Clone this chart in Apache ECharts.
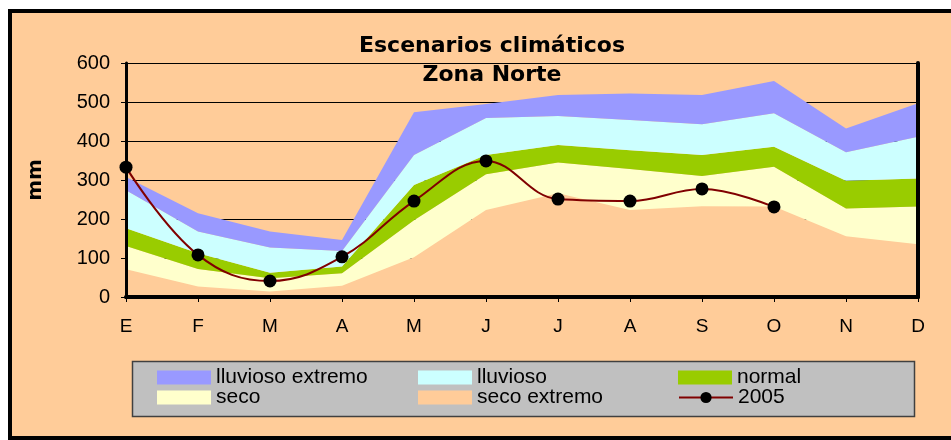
<!DOCTYPE html>
<html>
<head>
<meta charset="utf-8">
<script src="https://cdn.jsdelivr.net/npm/echarts@6/dist/echarts.min.js"></script>
<style>
html,body{margin:0;padding:0;background:#ffffff;}
#chart_clima{width:951px;height:440px;}
</style>
</head>
<body>
<div id="chart_clima"></div>
<script>
// datos (mm por mes), bandas apiladas de abajo hacia arriba
var meses = ['E','F','M','A','M','J','J','A','S','O','N','D'];
var secoExtremo     = [71, 27, 14, 29, 102, 223, 266, 223, 233, 232, 156, 135];
var seco            = [60, 45, 34, 32,  95,  92,  79, 105,  77, 102,  71,  97];
var normal          = [45, 40, 14, 17,  90,  49,  45,  48,  54,  51,  71,  72];
var lluvioso        = [98, 56, 65, 40,  77,  95,  74,  78,  79,  86,  73, 107];
var lluviosoExtremo = [34, 47, 41, 28, 110,  36,  54,  68,  75,  83,  61,  86];
var anio2005        = [333, 108, 41, 103, 246, 349, 251, 246, 277, 231, null, null];

function banda(nombre, datos, color){
    return {
        name: nombre,
        type: 'line',
        stack: 'total',
        data: datos,
        symbol: 'none',
        lineStyle: {width: 0},
        itemStyle: {color: color},
        areaStyle: {color: color, opacity: 1},
        emphasis: {disabled: true},
        z: 2
    };
}

function leyenda(nombre, icono, left, top){
    var item = {name: nombre};
    if (icono) item.icon = icono;
    return {
        data: [item],
        left: left,
        top: top,
        padding: 0,
        itemWidth: 54,
        itemHeight: 14,
        itemGap: 0,
        selectedMode: false,
        textStyle: {fontFamily: 'Liberation Sans', fontSize: 21, color: '#000', lineHeight: 20}
    };
}

var myChart = echarts.init(document.getElementById('chart_clima'));
var option = {
    animation: false,
    backgroundColor: '#ffffff',
    title: {
        text: 'Escenarios climáticos\nZona Norte',
        left: 487,
        textAlign: 'center',
        top: 27,
        textStyle: {fontFamily: 'DejaVu Sans', fontWeight: 'bold', fontSize: 22, lineHeight: 29, color: '#000'}
    },
    graphic: [
        {type: 'rect', z: -10, shape: {x: 10, y: 11, width: 1000, height: 427},
         style: {fill: '#FFCC99', stroke: '#000', lineWidth: 4}},
        {type: 'rect', z: 1, shape: {x: 132.5, y: 361.5, width: 782, height: 55},
         style: {fill: '#C0C0C0', stroke: '#404040', lineWidth: 1.5}}
    ],
    legend: [
        leyenda('lluvioso extremo', 'rect', 157, 367),
        leyenda('lluvioso', 'rect', 418, 367),
        leyenda('normal', 'rect', 678, 367),
        leyenda('seco', 'rect', 157, 387),
        leyenda('seco extremo', 'rect', 418, 387),
        leyenda('2005', null, 678, 387)
    ],
    grid: {left: 126, right: 33, top: 63, bottom: 143},
    xAxis: [{
        type: 'category',
        data: meses,
        boundaryGap: false,
        z: 10,
        axisLine: {lineStyle: {color: '#000', width: 3}},
        axisTick: {length: 5, lineStyle: {color: '#000'}},
        axisLabel: {margin: 20, fontFamily: 'Liberation Sans', fontSize: 19, color: '#000'}
    }, {
        type: 'category',
        data: meses,
        position: 'top',
        boundaryGap: false,
        z: 10,
        axisLine: {lineStyle: {color: '#000', width: 4}},
        axisTick: {show: false},
        axisLabel: {show: false}
    }],
    yAxis: [{
        type: 'value',
        min: 0,
        max: 600,
        interval: 100,
        name: 'mm',
        nameLocation: 'middle',
        nameRotate: 90,
        nameGap: 80,
        nameTextStyle: {fontFamily: 'DejaVu Sans', fontWeight: 'bold', fontSize: 20, color: '#000'},
        axisLine: {show: false},
        axisTick: {show: true, length: 5, lineStyle: {color: '#000'}},
        axisLabel: {margin: 16, fontFamily: 'Liberation Sans', fontSize: 20, color: '#000'},
        splitLine: {lineStyle: {color: '#000', width: 1}}
    }, {
        type: 'value', min: 0, max: 600, interval: 100, position: 'left', z: 10,
        axisLine: {show: true, lineStyle: {color: '#000', width: 3}},
        axisTick: {show: false}, axisLabel: {show: false}, splitLine: {show: false}
    }, {
        type: 'value', min: 0, max: 600, interval: 100, position: 'right', z: 10,
        axisLine: {show: true, lineStyle: {color: '#000', width: 4}},
        axisTick: {show: false}, axisLabel: {show: false}, splitLine: {show: false}
    }],
    series: [
        banda('seco extremo', secoExtremo, '#FFCC99'),
        banda('seco', seco, '#FFFFCC'),
        banda('normal', normal, '#99CC00'),
        banda('lluvioso', lluvioso, '#CCFFFF'),
        banda('lluvioso extremo', lluviosoExtremo, '#9999FF'),
        {
            name: '2005',
            type: 'line',
            data: anio2005,
            smooth: 0.4,
            symbol: 'circle',
            symbolSize: 13,
            itemStyle: {color: '#000'},
            lineStyle: {color: '#800000', width: 2},
            emphasis: {disabled: true},
            z: 5
        }
    ]
};
myChart.setOption(option);
</script>
</body>
</html>
